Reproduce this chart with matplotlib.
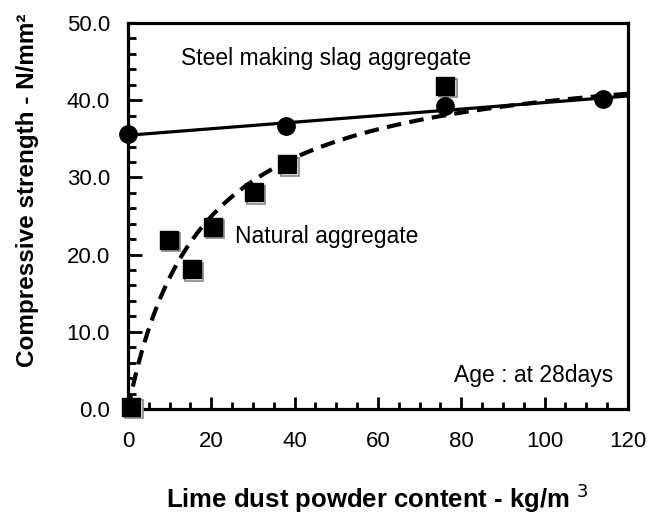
import numpy as np
import matplotlib
matplotlib.use('Agg')
import matplotlib.pyplot as plt
from matplotlib.transforms import offset_copy

plt.rcParams['font.family'] = ['Liberation Sans', 'DejaVu Sans']

# steel making slag aggregate (circles)
x_slag = [0, 38, 76, 114]
y_slag = [35.6, 36.6, 39.2, 40.1]

# natural aggregate (squares)
x_nat = [0.8, 9.8, 15.3, 20.4, 30.2, 38.2, 76.2]
y_nat = [0.3, 21.9, 18.1, 23.6, 28.1, 31.7, 41.9]

# trend curve for natural aggregate: y = a*x/(b+x), parameters
a_fit = 46.8
b_fit = 17.5

x_ticks = [0, 20, 40, 60, 80, 100, 120]
y_ticks = [0, 10, 20, 30, 40, 50]

fig = plt.figure(figsize=(6.5, 5.17), dpi=100)
ax = fig.add_axes([0.1969, 0.2089, 0.7692, 0.7466])

# linear fit for slag
coef = np.polyfit(x_slag, y_slag, 1)
xx = np.linspace(0, 120, 300)
ax.plot(xx, np.polyval(coef, xx), color='black', lw=2.3, zorder=2)
ax.plot(xx, a_fit * xx / (b_fit + xx), color='black', lw=3, dashes=(3.5, 2), zorder=2)

ax.plot(x_slag, y_slag, 'o', color='black', ms=12.5, zorder=4, clip_on=False)

# squares with a small grey shadow
shadow = offset_copy(ax.transData, fig=fig, x=2.5, y=-2.5, units='dots')
ax.plot(x_nat, y_nat, 's', ms=13, mfc='white', mec='#888888', mew=1.2,
        transform=shadow, zorder=3, clip_on=False)
ax.plot(x_nat, y_nat, 's', ms=13, color='black', zorder=5, clip_on=False)

ax.text(12.7, 45.4, 'Steel making slag aggregate', fontsize=16.5, va='center')
ax.text(25.7, 22.3, 'Natural aggregate', fontsize=16.5, va='center')
ax.text(78.2, 4.4, 'Age : at 28days', fontsize=16.5, va='center')

ax.set_xlim(0, 120)
ax.set_ylim(0, 50)
ax.set_xticks(x_ticks)
ax.set_yticks(y_ticks)
ax.set_yticklabels([f'{v:.1f}' for v in y_ticks])
ax.set_xticks(np.arange(0, 121, 5), minor=True)
ax.set_yticks(np.arange(0, 51, 2), minor=True)
ax.tick_params(which='both', direction='in', top=False, right=False, width=2,
               labelsize=16)
ax.tick_params(axis='x', which='major', length=9, pad=16)
ax.tick_params(axis='x', which='minor', length=5)
ax.tick_params(axis='y', which='major', length=10, pad=13)
ax.tick_params(axis='y', which='minor', length=6)
for s in ax.spines.values():
    s.set_linewidth(2.3)

fig.text(377 / 650, 1 - 498 / 517, 'Lime dust powder content - kg/m $^3$',
         fontsize=18.5, fontweight='bold', ha='center', va='center')
fig.text(28 / 650, 1 - 190 / 517, 'Compressive strength - N/mm²',
         fontsize=17.5, fontweight='bold', ha='center', va='center', rotation=90)

fig.savefig('out.png', dpi=100)
